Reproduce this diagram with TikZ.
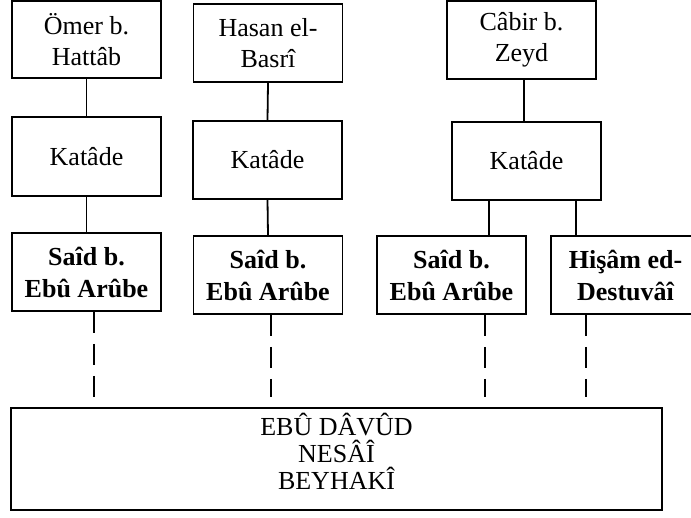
\documentclass[tikz,border=0pt]{standalone}
\usepackage{fontspec}
\setmainfont{Liberation Serif}
\begin{document}
\begin{tikzpicture}[x=1pt,y=-1pt,
  box/.style={draw, line width=1.8pt, inner sep=0pt, align=center,
    minimum width=149pt, font=\fontsize{26}{31}\selectfont},
  boldbox/.style={box, font=\fontsize{26}{32}\selectfont\bfseries},
  link/.style={line width=1.8pt},
  dlink/.style={line width=1.8pt, dash pattern=on 21pt off 11pt, shorten >=10pt}]
\useasboundingbox (0,0) rectangle (691,517);
% column A
\node[box, minimum height=77pt] (a1) at (86.5,39.5) {Ömer b.\\Hattâb};
\node[box, minimum height=79pt] (a2) at (86.5,156.5) {Katâde};
\node[boldbox, minimum height=78pt] (a3) at (86.5,272) {Saîd b.\\Ebû Arûbe};
% column B
\node[box, minimum height=78pt] (b1) at (268,43) {Hasan el-\\Basrî};
\node[box, minimum height=78pt] (b2) at (267.5,160) {Katâde};
\node[boldbox, minimum height=78pt] (b3) at (268,275) {Saîd b.\\Ebû Arûbe};
% column C
\node[box, minimum height=78pt] (c1) at (521.5,40) {Câbir b.\\Zeyd};
\node[box, minimum height=78pt] (c2) at (526.5,161) {Katâde};
\node[boldbox, minimum height=78pt] (c3) at (451.5,275) {Saîd b.\\Ebû Arûbe};
\node[boldbox, minimum height=78pt] (c4) at (625.5,275) {Hişâm ed-\\Destuvâî};
% bottom
\node[box, minimum width=651pt, minimum height=102pt] (z) at (336.5,459) {};
\node[align=center, inner sep=0pt, font=\fontsize{26}{27}\selectfont] (zt) at ([yshift=8pt]z.center) {EBÛ DÂVÛD\\NESÂÎ\\BEYHAKÎ};
% solid links
\draw[link] (a1.south) -- (a2.north);
\draw[link] (a2.south) -- (a3.north);
\draw[link] (b1.south) -- (b2.north);
\draw[link] (b2.south) -- (b3.north);
\draw[link] ([xshift=2.5pt]c1.south) -- ([xshift=2.5pt]c1.south |- c2.north);
\draw[link] ([xshift=-37.5pt]c2.south) -- ([xshift=-37.5pt]c2.south |- c3.north);
\draw[link] ([xshift=49.5pt]c2.south) -- ([xshift=49.5pt]c2.south |- c4.north);
% dashed links
\draw[dlink] ([xshift=7.5pt]a3.south) -- ([xshift=7.5pt]a3.south |- z.north);
\draw[dlink] ([xshift=3pt]b3.south) -- ([xshift=3pt]b3.south |- z.north);
\draw[dlink] ([xshift=33.5pt]c3.south) -- ([xshift=33.5pt]c3.south |- z.north);
\draw[dlink] ([xshift=-39.5pt]c4.south) -- ([xshift=-39.5pt]c4.south |- z.north);
\end{tikzpicture}
\end{document}
